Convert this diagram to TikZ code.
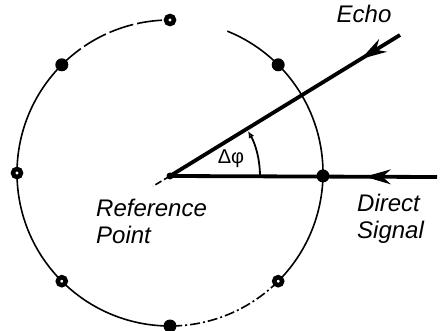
\documentclass[tikz,border=0pt]{standalone}
\usepackage{fontspec}
\setmainfont{Liberation Sans}
\usepackage{tikz}
\usetikzlibrary{arrows.meta,decorations.markings,positioning}

\begin{document}
\begin{tikzpicture}[x=1pt,y=1pt,
  rim/.style={line width=1.6pt},
  sig/.style={line width=3.8pt},
  fulldot/.style={circle,fill=black,inner sep=0pt,minimum size=13pt},
  ringdot/.style={circle,draw=black,line width=4.5pt,fill=white,inner sep=0pt,minimum size=8pt},
  refdot/.style={circle,fill=black,inner sep=0pt,minimum size=7pt},
  lbl/.style={font=\fontsize{24}{27}\selectfont\itshape,align=left,inner sep=0pt},
  midarrow/.style={postaction={decorate},decoration={markings,
      mark=at position #1 with {\arrow[line width=1pt]{Stealth[length=26pt,width=15pt]}}}},
  anglearc/.style={line width=1.8pt,-{Latex[open,length=7pt,width=6pt]}}
]
  \useasboundingbox (0,0) rectangle (445,330);
  \coordinate (ctr) at (170,157);
  \node[refdot] (ref) at (170,154) {};
  \coordinate (echoend) at (400,295);
  \coordinate (dsend)   at (437,153);
  \coordinate (refstub) at ([shift={(211:20)}]ref.center);

  % antenna circle
  \draw[rim] ([shift={(68:153)}]ctr) arc[start angle=68,end angle=-45,radius=153];
  \draw[rim,dash pattern=on 10pt off 3pt on 2pt off 3pt]
      ([shift={(-45:153)}]ctr) arc[start angle=-45,end angle=-90,radius=153];
  \draw[rim] ([shift={(-90:153)}]ctr) arc[start angle=-90,end angle=-225,radius=153];
  \draw[rim,dash pattern=on 25pt off 4pt]
      ([shift={(135:153)}]ctr) arc[start angle=135,end angle=90,radius=153];

  % signals
  \draw[sig,midarrow=0.17](echoend)--(ref.center);
  \draw[sig,midarrow=0.27](dsend)--(ref.center);
  \draw[rim,dash pattern=on 7pt off 3pt](ref.center)--(refstub);
  \draw[anglearc]([shift={(0:90)}]ref.center) arc[start angle=0,end angle=30,radius=90];

  % antennas
  \foreach \a/\s in {90/ringdot,45/fulldot,135/fulldot,180/ringdot,
                     225/ringdot,270/fulldot,315/ringdot,-1.1/fulldot}
    \node[\s] (ant\a) at ([shift={(\a:153)}]ctr) {};

  \node[lbl] (echo) at (364,316) {Echo};
  \node[lbl,anchor=north west] (reflbl) at (96,131) {Reference\\Point};
  \node[lbl,anchor=north west] (dslbl) at (357,136) {Direct\\Signal};
  \node[font=\fontsize{20}{20}\selectfont] (dphi) at (231,171) {Δφ};
\end{tikzpicture}
\end{document}
